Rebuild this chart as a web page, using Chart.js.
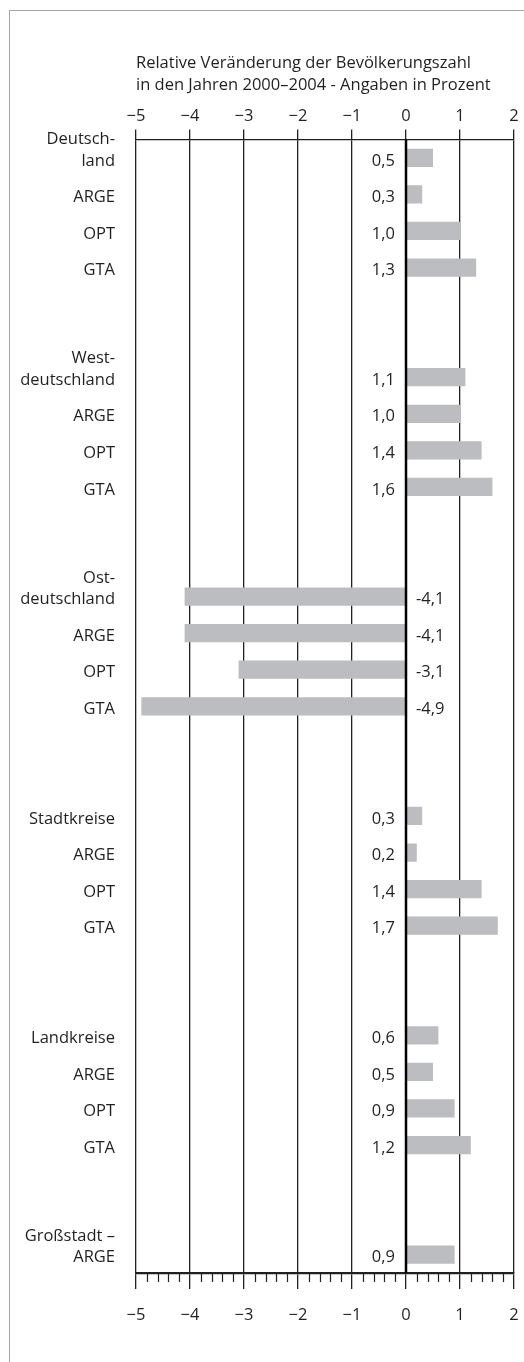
<!DOCTYPE html>
<html>
<head>
<meta charset="utf-8">
<script src="https://cdn.jsdelivr.net/npm/chart.js@4/dist/chart.umd.min.js"></script>
<style>
  html, body { margin: 0; padding: 0; background: #fff; }
  body { width: 524px; height: 1362px; position: relative; overflow: hidden; }
  #frame {
    position: absolute; left: 9px; top: 10px; width: 700px; height: 1500px;
    border-left: 1.5px solid #a6a6a6; border-top: 1.5px solid #a6a6a6;
  }
  #chart { position: absolute; left: 0; top: 0; }
</style>
</head>
<body>
<div id="frame"></div>
<canvas id="chart" width="524" height="1362"></canvas>
<script>
// rows of the chart, blank rows are the gaps between the groups
const categories = [
  ["Deutsch-", "land", ""], "ARGE", "OPT", "GTA", "", "",
  ["West-", "deutschland", ""], "ARGE", "OPT", "GTA", "", "",
  ["Ost-", "deutschland", ""], "ARGE", "OPT", "GTA", "", "",
  "Stadtkreise", "ARGE", "OPT", "GTA", "", "",
  "Landkreise", "ARGE", "OPT", "GTA", "", "",
  ["Großstadt –", "ARGE", ""],
];

// relative change of population 2000-2004, percent
const changeValues = [
  0.5, 0.3, 1.0, 1.3, null, null,
  1.1, 1.0, 1.4, 1.6, null, null,
  -4.1, -4.1, -3.1, -4.9, null, null,
  0.3, 0.2, 1.4, 1.7, null, null,
  0.6, 0.5, 0.9, 1.2, null, null,
  0.9,
];

const xMin = -5;
const xMax = 2;
const titleLines = [
  "Relative Veränderung der Bevölkerungszahl",
  "in den Jahren 2000–2004 - Angaben in Prozent",
];

const inkColor = "#231f20";
const barColor = "#bcbdc1";
const fontFamily = "'Open Sans', 'Noto Sans', sans-serif";
const fontSize = 16.5;

Chart.defaults.font.family = fontFamily;
Chart.defaults.font.size = fontSize;
Chart.defaults.color = inkColor;

function tickText(v) {
  return v < 0 ? "\u2212" + Math.abs(v) : String(v);
}

function numText(v) {
  return v.toFixed(1).replace(".", ",");
}

function fixHorizontal(height) {
  return (s) => {
    s.height = height;
    s.paddingLeft = 0;
    s.paddingRight = 0;
  };
}

// value labels next to the zero line, zero line on top, minor ticks at bottom
const decorations = {
  id: "decorations",
  afterDatasetsDraw(chart) {
    const ctx = chart.ctx;
    const xs = chart.scales.x;
    const area = chart.chartArea;
    const x0 = xs.getPixelForValue(0);
    const meta = chart.getDatasetMeta(0);

    ctx.save();
    ctx.font = fontSize + "px " + fontFamily;
    ctx.fillStyle = inkColor;
    ctx.textBaseline = "middle";
    meta.data.forEach((bar, i) => {
      const v = changeValues[i];
      if (v === null) return;
      if (v >= 0) {
        ctx.textAlign = "right";
        ctx.fillText(numText(v), x0 - 11, bar.y + 3);
      } else {
        ctx.textAlign = "left";
        ctx.fillText(numText(v), x0 + 10, bar.y + 3);
      }
    });

    // zero line
    ctx.strokeStyle = "#000";
    ctx.lineWidth = 2.5;
    ctx.beginPath();
    ctx.moveTo(x0, area.top);
    ctx.lineTo(x0, area.bottom);
    ctx.stroke();

    // minor ticks on the bottom axis, every 0.2
    const xb = chart.scales.xBottom;
    ctx.strokeStyle = inkColor;
    ctx.lineWidth = 1.2;
    ctx.beginPath();
    for (let i = xMin * 5; i <= xMax * 5; i++) {
      if (i % 5 === 0) continue;
      const px = Math.round(xb.getPixelForValue(i / 5)) + 0.5;
      ctx.moveTo(px, area.bottom);
      ctx.lineTo(px, area.bottom + 9);
    }
    ctx.stroke();
    ctx.restore();
  },
};

const ctx = document.getElementById("chart").getContext("2d");
new Chart(ctx, {
  type: "bar",
  data: {
    labels: categories,
    datasets: [
      {
        data: changeValues,
        backgroundColor: barColor,
        borderWidth: 0,
        barPercentage: 0.5,
        categoryPercentage: 1,
      },
    ],
  },
  options: {
    indexAxis: "y",
    responsive: false,
    animation: false,
    layout: { padding: { top: 0, right: 10, bottom: 21, left: 0 } },
    plugins: {
      legend: { display: false },
      tooltip: { enabled: false },
      title: {
        display: true,
        text: titleLines,
        align: "start",
        fullSize: false,
        color: inkColor,
        font: { size: fontSize, weight: "normal", lineHeight: 1.35 },
        padding: { top: 52, bottom: 3 },
      },
    },
    scales: {
      x: {
        position: "top",
        min: xMin,
        max: xMax,
        ticks: { stepSize: 1, padding: 3, callback: tickText, color: inkColor },
        grid: {
          color: inkColor,
          lineWidth: 1.3,
          tickLength: 10,
        },
        border: { display: true, color: inkColor, width: 1.3 },
        afterFit: fixHorizontal(40),
      },
      xBottom: {
        position: "bottom",
        axis: "x",
        min: xMin,
        max: xMax,
        ticks: { stepSize: 1, padding: 16, callback: tickText, color: inkColor },
        grid: { drawOnChartArea: false, color: inkColor, lineWidth: 1.3, tickLength: 16 },
        border: { display: true, color: inkColor, width: 2.2 },
        afterFit: fixHorizontal(68),
      },
      y: {
        ticks: { padding: 13, labelOffset: 3, autoSkip: false, color: inkColor,
                 font: { size: fontSize, lineHeight: 1.3 } },
        grid: { display: false },
        border: { display: false },
        afterFit: (s) => { s.width = 136; },
      },
    },
  },
  plugins: [decorations],
});
</script>
</body>
</html>
